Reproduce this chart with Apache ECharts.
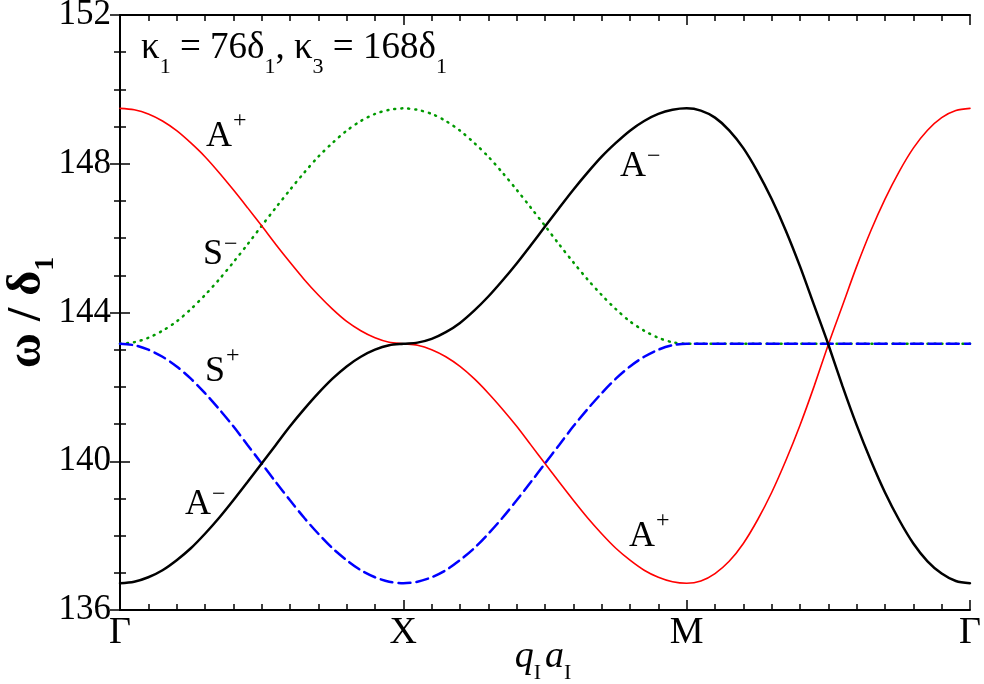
<!DOCTYPE html>
<html>
<head>
<meta charset="utf-8">
<script src="https://cdn.jsdelivr.net/npm/echarts@6.0.0/dist/echarts.min.js"></script>
<style>
  html, body { margin: 0; padding: 0; background: #fff; }
  #chartBox { width: 984px; height: 684px; }
</style>
</head>
<body>
<div id="chartBox"></div>
<script>
// path position along Γ -> X -> M -> Γ (one unit per segment, 20 samples each)
const qPath = [
  0, 0.05, 0.1, 0.15, 0.2, 0.25, 0.3, 0.35, 0.4, 0.45, 0.5, 0.55, 0.6, 0.65, 0.7, 0.75, 0.8, 0.85, 0.9, 0.95,
  1, 1.05, 1.1, 1.15, 1.2, 1.25, 1.3, 1.35, 1.4, 1.45, 1.5, 1.55, 1.6, 1.65, 1.7, 1.75, 1.8, 1.85, 1.9, 1.95,
  2, 2.05, 2.1, 2.15, 2.2, 2.25, 2.3, 2.35, 2.4, 2.45, 2.5, 2.55, 2.6, 2.65, 2.7, 2.75, 2.8, 2.85, 2.9, 2.95,
  3
]
const pointLabels = ['Γ', 'X', 'M', 'Γ']

// A+ (red)
const aPlus = [
  149.49, 149.45, 149.34, 149.15, 148.89, 148.56, 148.19, 147.76, 147.30, 146.82,
  146.33, 145.83, 145.35, 144.89, 144.47, 144.09, 143.76, 143.51, 143.32, 143.20,
  143.16, 143.12, 143.00, 142.81, 142.55, 142.22, 141.83, 141.40, 140.94, 140.44,
  139.94, 139.44, 138.95, 138.48, 138.05, 137.66, 137.34, 137.07, 136.88, 136.76,
  136.72, 136.78, 136.98, 137.31, 137.79, 138.42, 139.16, 140.02, 140.97, 142.02,
  143.14, 144.19, 145.24, 146.20, 147.05, 147.79, 148.42, 148.90, 149.24, 149.43,
  149.49
]
// A- (black)
const aMinus = [
  136.72, 136.76, 136.88, 137.07, 137.34, 137.66, 138.05, 138.48, 138.95, 139.44,
  139.94, 140.44, 140.94, 141.40, 141.83, 142.22, 142.55, 142.81, 143.00, 143.12,
  143.16, 143.19, 143.29, 143.47, 143.72, 144.05, 144.43, 144.86, 145.32, 145.81,
  146.31, 146.81, 147.30, 147.76, 148.19, 148.56, 148.89, 149.15, 149.34, 149.45,
  149.49, 149.43, 149.24, 148.90, 148.42, 147.79, 147.05, 146.20, 145.24, 144.19,
  143.14, 142.02, 140.97, 140.02, 139.16, 138.42, 137.79, 137.31, 136.98, 136.78,
  136.72
]
// S- (green dotted)
const sMinus = [
  143.16, 143.20, 143.32, 143.51, 143.76, 144.09, 144.47, 144.89, 145.35, 145.83,
  146.33, 146.82, 147.30, 147.76, 148.19, 148.56, 148.89, 149.15, 149.34, 149.45,
  149.49, 149.45, 149.34, 149.15, 148.89, 148.56, 148.19, 147.76, 147.30, 146.82,
  146.33, 145.83, 145.35, 144.89, 144.47, 144.09, 143.76, 143.51, 143.32, 143.20,
  143.16, 143.16, 143.16, 143.16, 143.16, 143.16, 143.16, 143.16, 143.16, 143.16,
  143.16, 143.16, 143.16, 143.16, 143.16, 143.16, 143.16, 143.16, 143.16, 143.16,
  143.16
]
// S+ (blue dashed)
const sPlus = [
  143.16, 143.12, 143.00, 142.81, 142.55, 142.22, 141.83, 141.40, 140.94, 140.44,
  139.94, 139.44, 138.95, 138.48, 138.05, 137.66, 137.34, 137.07, 136.88, 136.76,
  136.72, 136.76, 136.88, 137.07, 137.34, 137.66, 138.05, 138.48, 138.95, 139.44,
  139.94, 140.44, 140.94, 141.40, 141.83, 142.22, 142.55, 142.81, 143.00, 143.12,
  143.16, 143.16, 143.16, 143.16, 143.16, 143.16, 143.16, 143.16, 143.16, 143.16,
  143.16, 143.16, 143.16, 143.16, 143.16, 143.16, 143.16, 143.16, 143.16, 143.16,
  143.16
]

const serif = 'Liberation Serif'

const textRich = {
  m: { fontFamily: serif, fontSize: 36, lineHeight: 36, verticalAlign: 'top', padding: [14, 0, 0, 0] },
  p: { fontFamily: serif, fontSize: 24, lineHeight: 24, verticalAlign: 'top', padding: [4, 0, 0, 1] },
  n: { fontFamily: serif, fontSize: 24, lineHeight: 24, verticalAlign: 'top', padding: [10, 0, 0, 1] },
  k: { fontFamily: serif, fontSize: 37, lineHeight: 36, verticalAlign: 'top' },
  s: { fontFamily: serif, fontSize: 22, lineHeight: 22, verticalAlign: 'top', padding: [26, 0, 0, 0] }
}

const curveLabels = [
  { x: 206, y: 105, text: '{m|A}{p|+}' },
  { x: 203, y: 223, text: '{m|S}{n|−}' },
  { x: 205, y: 340, text: '{m|S}{p|+}' },
  { x: 185, y: 473, text: '{m|A}{n|−}' },
  { x: 620, y: 135, text: '{m|A}{n|−}' },
  { x: 629, y: 505, text: '{m|A}{p|+}' }
]

const tickStyle = (show, split) => ({
  axisLine: { show: true, lineStyle: { color: '#000', width: 2 } },
  axisTick: { show: true, inside: true, length: 10, lineStyle: { color: '#000', width: 1.5 } },
  minorTick: { show: true, splitNumber: split, length: 6, lineStyle: { color: '#000', width: 1.5 } },
  splitLine: { show: false },
  minorSplitLine: { show: false },
  axisLabel: { show: show }
})

const lineSeries = (data, color, width, type, z) => ({
  type: 'line',
  data: qPath.map((q, i) => [q, data[i]]),
  showSymbol: false,
  smooth: 0.3,
  z: z,
  lineStyle: { color: color, width: width, type: type, cap: 'round' }
})

const createOptions = () => {
  const xBase = { type: 'value', min: 0, max: 3, interval: 1 }
  const yBase = { type: 'value', min: 136, max: 152, interval: 4 }
  return {
    animation: false,
    backgroundColor: '#fff',
    grid: { left: 120, right: 14, top: 15, bottom: 74, outerBoundsMode: 'none' },
    xAxis: [
      {
        ...xBase,
        ...tickStyle(true, 10),
        position: 'bottom',
        axisLabel: {
          show: true,
          margin: 4,
          color: '#000',
          fontFamily: serif,
          fontSize: 38,
          formatter: (v) => pointLabels[Math.round(v)]
        },
        name: '{q|q}{i|I}{q|a}{i|I}',
        nameLocation: 'middle',
        nameGap: 28,
        nameMoveOverlap: false,
        nameTextStyle: {
          rich: {
            q: { fontFamily: serif, fontStyle: 'italic', fontSize: 38, lineHeight: 38, verticalAlign: 'top', color: '#000' },
            i: { fontFamily: serif, fontSize: 22, lineHeight: 22, verticalAlign: 'top', padding: [24, 4, 0, 0], color: '#000' }
          }
        }
      },
      {
        ...xBase,
        ...tickStyle(false, 10),
        position: 'top'
      }
    ],
    yAxis: [
      {
        ...yBase,
        ...tickStyle(true, 4),
        position: 'left',
        axisLabel: { show: true, margin: 9, color: '#000', fontFamily: serif, fontSize: 35, showMinLabel: true, showMaxLabel: true },
        name: '{w|ω / δ}{s|1}',
        nameLocation: 'middle',
        nameGap: 68,
        nameMoveOverlap: false,
        nameTextStyle: {
          rich: {
            w: { fontFamily: serif, fontWeight: 'bold', fontSize: 48, lineHeight: 48, verticalAlign: 'top', color: '#000' },
            s: { fontFamily: serif, fontWeight: 'bold', fontSize: 28, lineHeight: 28, verticalAlign: 'top', padding: [28, 0, 0, 0], color: '#000' }
          }
        }
      },
      {
        ...yBase,
        ...tickStyle(false, 4),
        position: 'right'
      }
    ],
    series: [
      lineSeries(sMinus, '#009a00', 2.5, [1, 6], 2),
      lineSeries(aPlus, '#ff0000', 1.6, 'solid', 3),
      lineSeries(sPlus, '#0000ff', 2.5, [12, 6], 4),
      lineSeries(aMinus, '#000000', 2.5, 'solid', 5)
    ],
    graphic: [
      {
        type: 'text',
        x: 141,
        y: 30,
        style: {
          text: '{k|κ}{s|1}{k| = 76δ}{s|1}{k|, κ}{s|3}{k| = 168δ}{s|1}',
          rich: textRich,
          fill: '#000',
          verticalAlign: 'top'
        }
      },
      ...curveLabels.map((item) => ({
        type: 'text',
        x: item.x,
        y: item.y,
        style: { text: item.text, rich: textRich, fill: '#000', verticalAlign: 'top' }
      }))
    ]
  }
}

const renderChart = () => {
  const chart = echarts.init(document.getElementById('chartBox'))
  chart.setOption(createOptions())
}
renderChart()
</script>
</body>
</html>
